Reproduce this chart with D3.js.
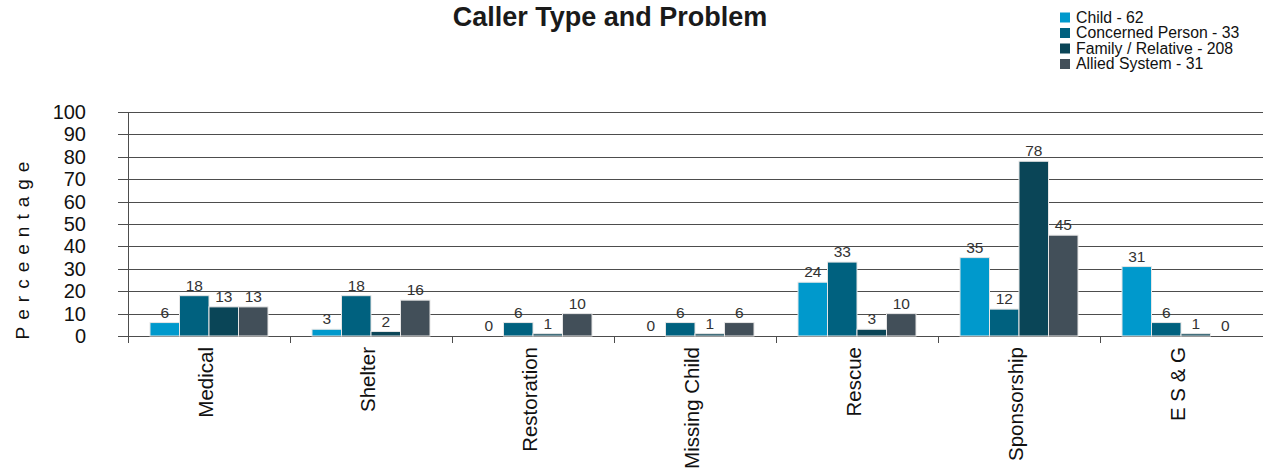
<!DOCTYPE html>
<html><head><meta charset="utf-8">
<script src="https://cdn.jsdelivr.net/npm/d3@7"></script>
<style>
body{margin:0;background:#fff;}
text{font-family:"Liberation Sans",Arial,sans-serif;}
</style></head>
<body><svg id="c" width="1269" height="474"></svg>
<script>
const categories = ["Medical","Shelter","Restoration","Missing Child","Rescue","Sponsorship","E S & G"];
const seriesNames = ["Child - 62","Concerned Person - 33","Family / Relative - 208","Allied System - 31"];
const child     = [6,3,0,0,24,35,31];
const concerned = [18,18,6,6,33,12,6];
const family    = [13,2,1,1,3,78,1];
const allied    = [13,16,10,6,10,45,0];
const yTicks = [0,10,20,30,40,50,60,70,80,90,100];
const colors = ["#0099cc","#00617f","#0a4557","#424f59"];
const series = [child, concerned, family, allied];

const svg = d3.select("#c");
const x0 = d3.scaleBand().domain(categories).range([128,1262]).paddingInner(0).paddingOuter(0);
const x1 = d3.scaleBand().domain(d3.range(4)).range([22, x0.bandwidth()-22]);
const y = d3.scaleLinear().domain([0,100]).range([336,112]);

// gridlines
svg.append("g").selectAll("line").data(yTicks).join("line")
  .attr("x1",118).attr("x2",1263)
  .attr("y1",d=>Math.round(y(d))+0.5).attr("y2",d=>Math.round(y(d))+0.5)
  .attr("stroke","#4d4d4d").attr("stroke-width",1);
// y axis
svg.append("line").attr("x1",128.5).attr("x2",128.5).attr("y1",y(100)).attr("y2",343)
  .attr("stroke","#4d4d4d");
// y tick labels
svg.append("g").selectAll("text").data(yTicks).join("text")
  .attr("x",86).attr("y",d=>y(d)).attr("dy","0.35em").attr("text-anchor","end")
  .attr("font-size",20).attr("fill","#111").text(d=>d);
// category ticks
svg.append("g").selectAll("line").data(categories).join("line")
  .attr("x1",d=>Math.round(x0(d))+0.5).attr("x2",d=>Math.round(x0(d))+0.5)
  .attr("y1",336).attr("y2",343).attr("stroke","#4d4d4d");
// bars
const rows = categories.map((c,i)=>({c, vals: series.map(s=>s[i])}));
const g = svg.append("g").selectAll("g").data(rows).join("g")
  .attr("transform",d=>`translate(${x0(d.c)},0)`);
g.selectAll("rect").data(d=>d.vals.map((v,k)=>({v,k}))).join("rect")
  .attr("x",d=>x1(d.k)).attr("width",x1.bandwidth())
  .attr("y",d=>y(d.v)).attr("height",d=>y(0)-y(d.v))
  .attr("fill",d=>colors[d.k]).attr("stroke",d=>d.v>0?"#e6e6e6":"none").attr("stroke-width",1);
g.selectAll("text").data(d=>d.vals.map((v,k)=>({v,k}))).join("text")
  .attr("x",d=>x1(d.k)+x1.bandwidth()/2).attr("y",d=>y(d.v)-5)
  .attr("text-anchor","middle").attr("font-size",15.5).attr("fill","#333").text(d=>d.v);
// category labels
svg.append("g").selectAll("text").data(categories).join("text")
  .attr("transform",d=>`translate(${x0(d)+x0.bandwidth()/2-2},347) rotate(-90)`)
  .attr("text-anchor","end").attr("dy","0.3em").attr("font-size",20.5).attr("fill","#111").text(d=>d);
// y axis title
svg.append("text").attr("transform","translate(22,247) rotate(-90)")
  .attr("text-anchor","middle").attr("dy","0.35em").attr("font-size",19)
  .attr("letter-spacing",7).attr("fill","#111").text("Perceentage");
// title
svg.append("text").attr("x",610).attr("y",26).attr("text-anchor","middle")
  .attr("font-size",27).attr("font-weight","bold").attr("fill","#1a1a1a").text("Caller Type and Problem");
// legend
const lg = svg.append("g").selectAll("g").data(seriesNames).join("g")
  .attr("transform",(d,i)=>`translate(1060,${22.5+i*15.5})`);
lg.append("rect").attr("x",0).attr("y",-10).attr("width",10).attr("height",10).attr("fill",(d,i)=>colors[i]);
lg.append("text").attr("x",16).attr("y",0).attr("font-size",15.8).attr("fill","#111").text(d=>d);
</script></body></html>
